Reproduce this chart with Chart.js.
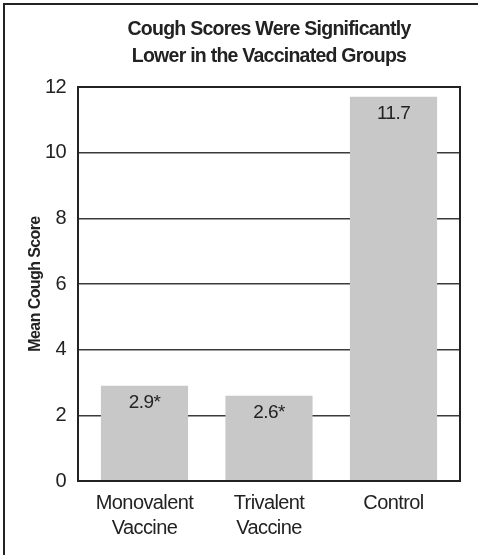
<!DOCTYPE html>
<html>
<head>
<meta charset="utf-8">
<script src="https://cdn.jsdelivr.net/npm/chart.js@4/dist/chart.umd.min.js"></script>
<style>
  html, body { margin: 0; padding: 0; background: #fff; }
  #wrap { position: relative; width: 478px; height: 555px; overflow: hidden; }
  #frame { position: absolute; left: 3px; top: 3px; width: 480px; height: 560px;
           border-left: 2px solid #222; border-top: 2px solid #222; box-sizing: border-box; }
  canvas { position: absolute; left: 0; top: 0; }
</style>
</head>
<body>
<div id="wrap">
  <div id="frame"></div>
  <canvas id="c" width="478" height="555"></canvas>
</div>
<script>
const categories = [["Monovalent", "Vaccine"], ["Trivalent", "Vaccine"], "Control"];
const meanCoughScores = [2.9, 2.6, 11.7];
const valueLabels = ["2.9*", "2.6*", "11.7"];
const yTicks = [0, 2, 4, 6, 8, 10, 12];
const titleLines = ["Cough Scores Were Significantly", "Lower in the Vaccinated Groups"];

const FONT = "'Liberation Sans Narrow', 'Liberation Sans', Arial, sans-serif";
const INK = '#222';
const SPACING = '-0.6px';

const stylePlugin = {
  id: 'condensed',
  beforeUpdate(chart) { chart.ctx.letterSpacing = SPACING; },
  beforeDraw(chart) { chart.ctx.letterSpacing = SPACING; },
  afterDatasetsDraw(chart) {
    const ctx = chart.ctx;
    const meta = chart.getDatasetMeta(0);
    ctx.save();
    ctx.letterSpacing = '-0.6px';
    ctx.font = `19px ${FONT}`;
    ctx.fillStyle = INK;
    ctx.textAlign = 'center';
    ctx.textBaseline = 'middle';
    meta.data.forEach((bar, i) => {
      ctx.fillText(valueLabels[i], bar.x, bar.y + 17);
    });
    ctx.restore();
  },
  afterDraw(chart) {
    const a = chart.chartArea;
    const ctx = chart.ctx;
    ctx.save();
    ctx.strokeStyle = INK;
    ctx.lineWidth = 2;
    ctx.strokeRect(a.left, a.top, a.right - a.left, a.bottom - a.top);
    // chart title, centred over the plot area
    ctx.letterSpacing = '-0.75px';
    ctx.font = `bold 19.5px ${FONT}`;
    ctx.fillStyle = INK;
    ctx.textAlign = 'center';
    ctx.textBaseline = 'middle';
    const cx = (a.left + a.right) / 2;
    ctx.fillText(titleLines[0], cx, a.top - 57);
    ctx.fillText(titleLines[1], cx, a.top - 30);
    ctx.restore();
  }
};

new Chart(document.getElementById('c'), {
  type: 'bar',
  data: {
    datasets: [{
      data: meanCoughScores.map((v, i) => ({ x: i, y: v })),
      backgroundColor: '#c8c8c8',
      borderWidth: 0,
      barPercentage: 0.7,
      categoryPercentage: 1.0
    }]
  },
  options: {
    responsive: false,
    animation: false,
    devicePixelRatio: 1,
    layout: { padding: { left: 0, right: 18, top: 87, bottom: 0 } },
    plugins: {
      legend: { display: false },
      tooltip: { enabled: false },
      title: { display: false }
    },
    scales: {
      x: {
        type: 'linear',
        offset: false,
        min: -0.534,
        max: 2.534,
        afterBuildTicks(s) { s.ticks = categories.map((c, i) => ({ value: i })); },
        grid: { display: false, drawTicks: false },
        border: { display: false },
        ticks: {
          color: INK,
          font: { family: FONT, size: 20, lineHeight: 25 / 20 },
          padding: 10,
          maxRotation: 0,
          autoSkip: false,
          callback: (v) => categories[v]
        },
        afterFit(s) { s.height = 74; }
      },
      y: {
        min: 0,
        max: 12,
        afterBuildTicks(s) { s.ticks = yTicks.map(v => ({ value: v })); },
        grid: { color: '#3a3a3a', lineWidth: 1.5, drawTicks: false },
        border: { display: false },
        ticks: {
          color: INK,
          font: { family: FONT, size: 20 },
          padding: 12
        },
        title: {
          display: true,
          text: 'Mean Cough Score',
          color: INK,
          font: { family: FONT, size: 16, weight: 'bold', lineHeight: 1.2 },
          padding: { top: 26, bottom: 0 }
        },
        afterFit(s) { s.width = 78; }
      }
    }
  },
  plugins: [stylePlugin]
});
</script>
</body>
</html>
